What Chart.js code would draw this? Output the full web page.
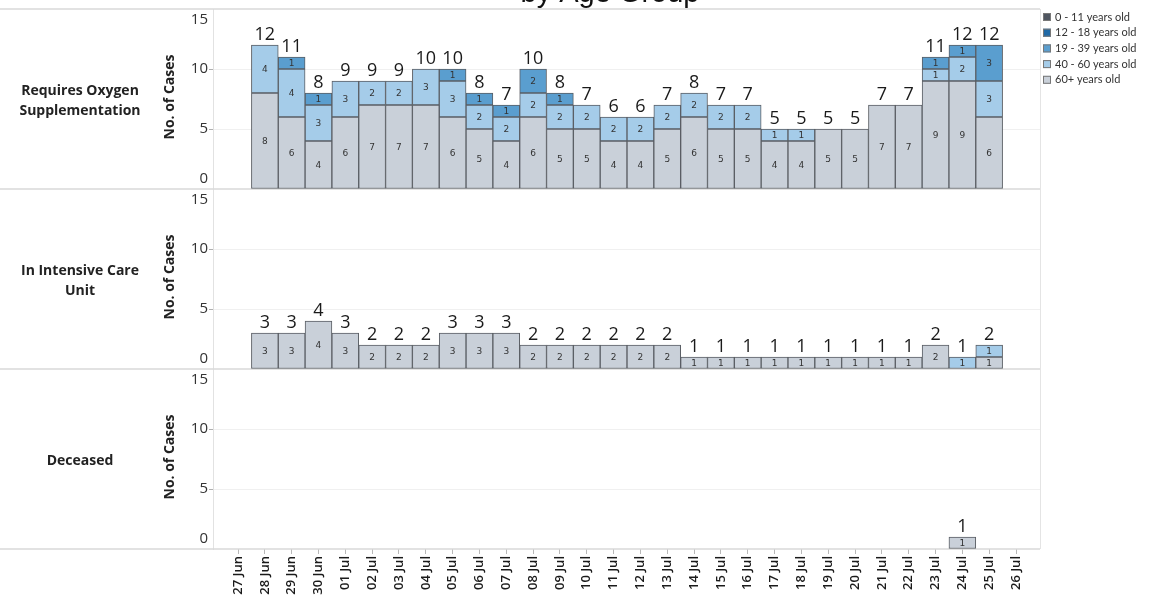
<!DOCTYPE html>
<html>
<head>
<meta charset="utf-8">
<script src="https://cdn.jsdelivr.net/npm/chart.js@4.4.1/dist/chart.umd.min.js"></script>
<style>
  html, body { margin: 0; padding: 0; background: #fff; }
  #wrap { position: relative; width: 1149px; height: 600px; }
</style>
</head>
<body>
<div id="wrap"><canvas id="chart" width="1149" height="600"></canvas></div>
<script>
// --- DATA ---
const dates = ['27 Jun', '28 Jun', '29 Jun', '30 Jun',
  '01 Jul', '02 Jul', '03 Jul', '04 Jul', '05 Jul', '06 Jul', '07 Jul', '08 Jul', '09 Jul', '10 Jul',
  '11 Jul', '12 Jul', '13 Jul', '14 Jul', '15 Jul', '16 Jul', '17 Jul', '18 Jul', '19 Jul', '20 Jul',
  '21 Jul', '22 Jul', '23 Jul', '24 Jul', '25 Jul', '26 Jul'];

const ageGroups = ['0 - 11 years old', '12 - 18 years old', '19 - 39 years old', '40 - 60 years old', '60+ years old'];
const ageColors = ['#4f5660', '#1f69a6', '#5a9ecf', '#a5cce9', '#c9d0d9'];

const rowLabels = [['Requires Oxygen', 'Supplementation'], ['In Intensive Care', 'Unit'], ['Deceased']];
const yTicks = [0, 5, 10, 15];

// Requires Oxygen Supplementation
const oxygen60 = [0, 8, 6, 4, 6, 7, 7, 7, 6, 5, 4, 6, 5, 5, 4, 4, 5, 6, 5, 5, 4, 4, 5, 5, 7, 7, 9, 9, 6, 0];
const oxygen40 = [0, 4, 4, 3, 3, 2, 2, 3, 3, 2, 2, 2, 2, 2, 2, 2, 2, 2, 2, 2, 1, 1, 0, 0, 0, 0, 1, 2, 3, 0];
const oxygen19 = [0, 0, 1, 1, 0, 0, 0, 0, 1, 1, 1, 2, 1, 0, 0, 0, 0, 0, 0, 0, 0, 0, 0, 0, 0, 0, 1, 1, 3, 0];
// In Intensive Care Unit
const icu60 = [0, 3, 3, 4, 3, 2, 2, 2, 3, 3, 3, 2, 2, 2, 2, 2, 2, 1, 1, 1, 1, 1, 1, 1, 1, 1, 2, 0, 1, 0];
const icu40 = [0, 0, 0, 0, 0, 0, 0, 0, 0, 0, 0, 0, 0, 0, 0, 0, 0, 0, 0, 0, 0, 0, 0, 0, 0, 0, 0, 1, 1, 0];
// Deceased
const deceased60 = [0, 0, 0, 0, 0, 0, 0, 0, 0, 0, 0, 0, 0, 0, 0, 0, 0, 0, 0, 0, 0, 0, 0, 0, 0, 0, 0, 1, 0, 0];

// each panel gets its own stacked y axis; series listed bottom-up (group = index in ageGroups)
const panels = [
  { axis: 'y1', series: [{ group: 4, values: oxygen60 }, { group: 3, values: oxygen40 }, { group: 2, values: oxygen19 }] },
  { axis: 'y2', series: [{ group: 4, values: icu60 }, { group: 3, values: icu40 }] },
  { axis: 'y3', series: [{ group: 4, values: deceased60 }] }
];

const datasets = [];
panels.forEach(panel => {
  panel.series.forEach(s => {
    datasets.push({
      label: ageGroups[s.group],
      data: s.values.map((v, i) => ({ x: i, y: v > 0 ? v : null })),
      yAxisID: panel.axis,
      backgroundColor: ageColors[s.group],
      borderColor: '#5a5e64',
      borderWidth: 1,
      borderSkipped: false,
      barPercentage: 1,
      categoryPercentage: 1
    });
  });
});

function yAxis() {
  return {
    type: 'linear',
    stack: 'rows',
    stackWeight: 1,
    stacked: true,
    position: 'left',
    min: 0,
    max: 15,
    afterBuildTicks: scale => { scale.ticks = yTicks.map(v => ({ value: v })); },
    afterFit: scale => { scale.width = 213; },
    ticks: { display: false },
    border: { display: true, color: '#e2e2e2' },
    grid: {
      color: c => (c.tick && c.tick.value % 15 === 0) ? 'rgba(0,0,0,0)' : '#f0f0f0',
      tickColor: c => (c.tick && c.tick.value % 15 === 0) ? 'rgba(0,0,0,0)' : '#b0b0b0',
      tickLength: 4
    }
  };
}

// --- DECORATION: separators, labels, legend ---
const decor = {
  id: 'decor',
  beforeDatasetsDraw(chart) {
    const { ctx, chartArea } = chart;
    ctx.save();
    ctx.strokeStyle = '#d8d8d8';
    ctx.lineWidth = 1.5;
    const lines = [chartArea.top];
    panels.forEach(p => lines.push(chart.scales[p.axis].getPixelForValue(0)));
    lines.forEach(y => {
      ctx.beginPath(); ctx.moveTo(0, y); ctx.lineTo(chartArea.right, y); ctx.stroke();
    });
    ctx.strokeStyle = '#e4e4e4';
    ctx.lineWidth = 1;
    ctx.beginPath(); ctx.moveTo(chartArea.right + 0.5, chartArea.top); ctx.lineTo(chartArea.right + 0.5, chartArea.bottom); ctx.stroke();
    ctx.restore();
  },
  afterDatasetsDraw(chart) {
    const { ctx } = chart;
    ctx.save();
    ctx.textAlign = 'center';
    // segment values
    ctx.font = '9px "DejaVu Sans"';
    ctx.fillStyle = '#333';
    ctx.textBaseline = 'middle';
    chart.data.datasets.forEach((ds, di) => {
      const meta = chart.getDatasetMeta(di);
      meta.data.forEach((el, i) => {
        const v = ds.data[i].y;
        if (!v) return;
        ctx.fillText(String(v), el.x, (el.y + el.base) / 2 + 1);
      });
    });
    // totals on top of each stack
    ctx.font = '18px "Open Sans"';
    ctx.fillStyle = '#1a1a1a';
    ctx.textBaseline = 'bottom';
    const xs = chart.scales.x;
    panels.forEach(p => {
      const ys = chart.scales[p.axis];
      dates.forEach((d, i) => {
        const total = p.series.reduce((a, s) => a + s.values[i], 0);
        if (total <= 0) return;
        ctx.fillText(String(total), xs.getPixelForValue(i), ys.getPixelForValue(total) - 1);
      });
    });
    ctx.restore();
  },
  afterDraw(chart) {
    const { ctx } = chart;
    ctx.save();
    panels.forEach((p, pi) => {
      const ys = chart.scales[p.axis];
      const mid = (ys.top + ys.bottom) / 2;
      // row label
      ctx.fillStyle = '#222';
      ctx.font = 'bold 14px "Open Sans"';
      ctx.textAlign = 'center';
      ctx.textBaseline = 'middle';
      const lines = rowLabels[pi];
      lines.forEach((t, li) => {
        ctx.fillText(t, 80, mid + 2 + (li - (lines.length - 1) / 2) * 20);
      });
      // axis title
      ctx.save();
      ctx.translate(170, mid - 2);
      ctx.rotate(-Math.PI / 2);
      ctx.fillText('No. of Cases', 0, 0);
      ctx.restore();
      // tick labels, kept inside the pane
      ctx.font = '15px "Open Sans"';
      ctx.fillStyle = '#333';
      ctx.textAlign = 'right';
      yTicks.forEach(v => {
        let y = ys.getPixelForValue(v);
        if (v === 15) y += 11;
        if (v === 0) y -= 10;
        ctx.fillText(String(v), 208, y);
      });
    });
    // title (cut off at the top)
    ctx.font = '29px "Liberation Sans"';
    ctx.fillStyle = '#111';
    ctx.textAlign = 'center';
    ctx.textBaseline = 'alphabetic';
    ctx.fillText('by Age Group', 610, 2);
    // legend
    ctx.font = '11px "Lato"';
    ctx.textAlign = 'left';
    ctx.textBaseline = 'middle';
    ageGroups.forEach((g, i) => {
      const y = 17 + i * 15.7;
      ctx.fillStyle = ageColors[i];
      ctx.fillRect(1043, y - 4, 8, 8);
      ctx.strokeStyle = '#777';
      ctx.lineWidth = 1;
      ctx.strokeRect(1043.5, y - 3.5, 7, 7);
      ctx.fillStyle = '#333';
      ctx.fillText(g, 1055, y);
    });
    ctx.restore();
  }
};

new Chart(document.getElementById('chart'), {
  type: 'bar',
  data: { datasets },
  options: {
    responsive: false,
    animation: false,
    layout: { padding: { top: 9, right: 109, left: 0, bottom: 0 } },
    plugins: { legend: { display: false }, tooltip: { enabled: false } },
    scales: {
      x: {
        type: 'linear',
        stacked: true,
        offset: false,
        min: -0.932,
        max: 29.894,
        afterBuildTicks: scale => { scale.ticks = dates.map((d, i) => ({ value: i })); },
        afterFit: scale => { scale.height = 51; scale.paddingLeft = 0; scale.paddingRight = 0; },
        ticks: {
          autoSkip: false,
          minRotation: 90,
          maxRotation: 90,
          padding: 2,
          color: '#1a1a1a',
          font: { family: 'Open Sans', size: 13, weight: '600' },
          callback: v => dates[v]
        },
        border: { display: false },
        grid: { offset: false, drawOnChartArea: false, tickLength: 5, tickColor: '#b8b8b8' }
      },
      // stacked axes are laid out bottom-up in this order
      y3: yAxis(),
      y2: yAxis(),
      y1: yAxis()
    }
  },
  plugins: [decor]
});
</script>
</body>
</html>
